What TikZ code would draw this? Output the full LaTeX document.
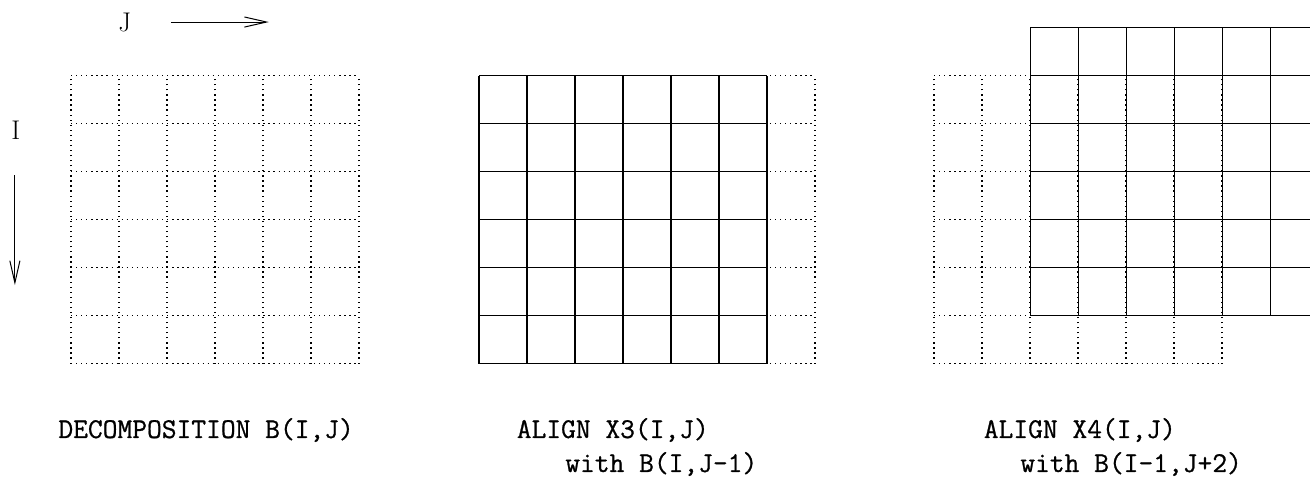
\documentclass[tikz,border=0pt]{standalone}
\usepackage{fontspec}
\setmonofont{Latin Modern Mono}[FakeBold=0.8]
\usetikzlibrary{arrows.meta,positioning}

\tikzset{
  solidGrid/.style={line width=0.65pt},
  dottedGrid/.style={line width=0.75pt,dash pattern=on 0.75pt off 2.25pt},
  axisArrow/.style={line width=0.6pt,-{Straight Barb[length=0.46cm,width=0.21cm]}},
  axisLabel/.style={font=\fontsize{16}{19}\selectfont,inner sep=0pt},
  captionText/.style={font=\fontsize{17}{20}\selectfont\ttfamily,inner sep=0pt,anchor=base west}
}

\begin{document}
\begin{tikzpicture}
\path[use as bounding box,clip] (0,0) rectangle (27.292,9.979);

% index directions
\node[axisLabel] (jLabel) at (2.60,9.52) {J};
\coordinate (jFrom) at (3.56,9.52);
\coordinate (jTo) at (5.60,9.52);
\draw[axisArrow] (jFrom) -- (jTo);

\node[axisLabel] (iLabel) at (0.33,7.27) {I};
\coordinate (iFrom) at (0.31,6.33);
\coordinate (iTo) at (0.31,4.04);
\draw[axisArrow] (iFrom) -- (iTo);

% Decomposition B
\begin{scope}[shift={(1.48,2.40)}]
  \draw[dottedGrid] (0,0) grid (6,6);
\end{scope}
\node[captionText] (decompLabel) at (1.21,0.854) {DECOMPOSITION B(I,J)};

% X3 aligned with B(I,J-1)
\begin{scope}[shift={(9.98,2.40)}]
  \draw[dottedGrid] (1,0) grid (7,6);
  \draw[solidGrid] (0,0) grid (6,6);
\end{scope}
\node[captionText] (alignThree) at (10.76,0.854) {ALIGN X3(I,J)};
\node[captionText] (withThree) at (11.77,0.146) {with B(I,J-1)};

% X4 aligned with B(I-1,J+2)
\begin{scope}[shift={(19.46,2.40)}]
  \draw[dottedGrid] (0,0) grid (6,6);
  \draw[solidGrid] (2,1) grid (8,7);
\end{scope}
\node[captionText] (alignFour) at (20.49,0.854) {ALIGN X4(I,J)};
\node[captionText] (withFour) at (21.25,0.146) {with B(I-1,J+2)};
\end{tikzpicture}
\end{document}
